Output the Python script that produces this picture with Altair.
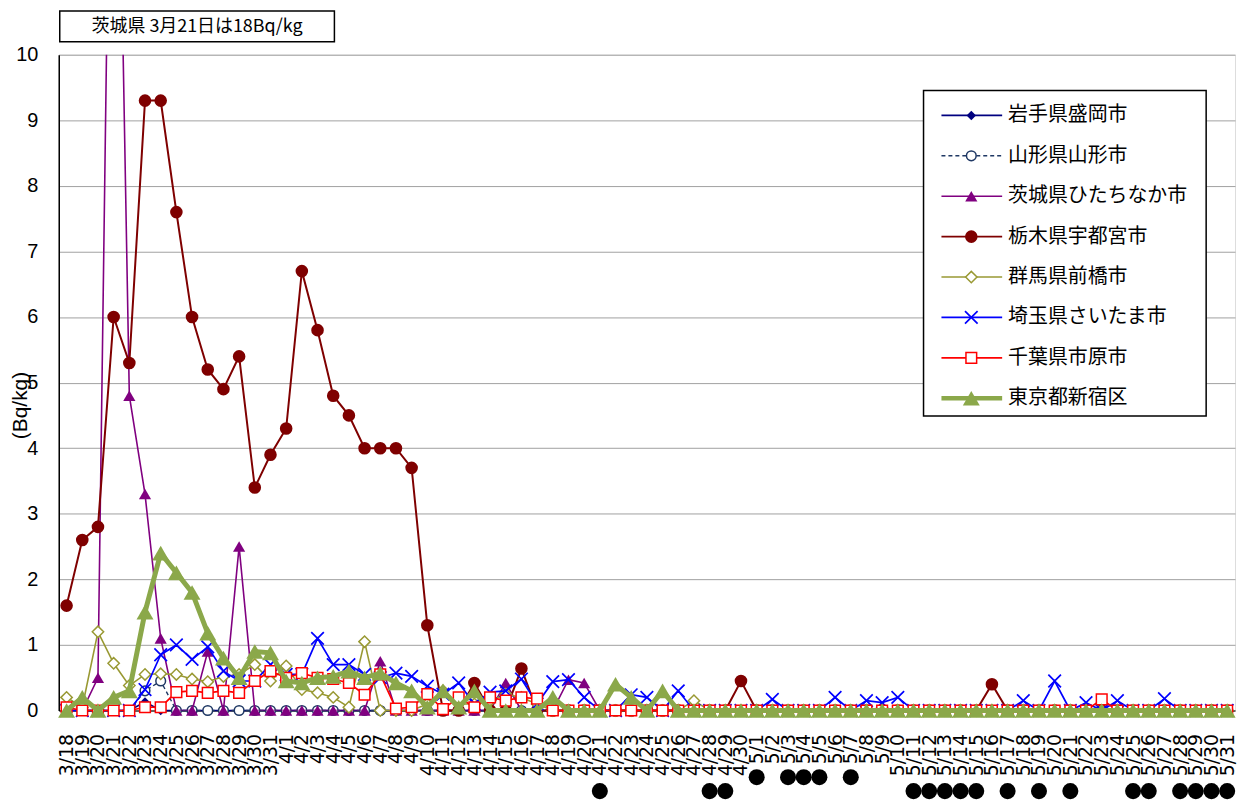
import altair as alt
import pandas as pd

# ---------------- data ----------------
dates = ([f"3/{d}" for d in range(18, 32)] +
         [f"4/{d}" for d in range(1, 31)] +
         [f"5/{d}" for d in range(1, 32)])

names = ["岩手県盛岡市", "山形県山形市", "茨城県ひたちなか市", "栃木県宇都宮市",
         "群馬県前橋市", "埼玉県さいたま市", "千葉県市原市", "東京都新宿区"]

iwate = [0, 0, 0, 0, 0, 0.13, 0, 0, 0, 0, 0, 0, 0, 0,
         0, 0, 0, 0, 0, 0, 0, 0, 0, 0, 0, 0, 0, 0, 0, 0, 0, 0, 0, 0, 0, 0, 0, 0, 0, 0, 0, 0, 0, 0,
         0, 0, 0, 0, 0, 0, 0, 0, 0, 0, 0, 0, 0, 0, 0, 0, 0, 0, 0, 0, 0, 0, 0, 0, 0, 0, 0, 0, 0, 0, 0]
yamagata = [0, 0, 0, 0, 0, 0.3, 0.45, 0, 0, 0, 0, 0, 0, 0,
            0, 0, 0, 0, 0, 0, 0, 0, 0, 0, 0, 0, 0, 0, 0, 0, 0, 0, 0, 0, 0, 0, 0, 0, 0, 0, 0, 0, 0, 0,
            0, 0, 0, 0, 0, 0, 0, 0, 0, 0, 0, 0, 0, 0, 0, 0, 0, 0, 0, 0, 0, 0, 0, 0, 0, 0, 0, 0, 0, 0, 0]
ibaraki = [0, 0, 0.5, 18, 4.8, 3.3, 1.1, 0, 0, 0.9, 0, 2.5, 0, 0,
           0, 0, 0, 0, 0, 0, 0.75, 0, 0, 0, 0, 0, 0, 0, 0.42, 0, 0, 0, 0.47, 0.42, 0, 0, 0, 0, 0, 0, 0, 0, 0, 0,
           0, 0, 0, 0, 0, 0, 0, 0, 0, 0, 0, 0, 0, 0, 0, 0, 0, 0, 0, 0, 0, 0, 0, 0, 0, 0, 0, 0, 0, 0, 0]
tochigi = [1.6, 2.6, 2.8, 6.0, 5.3, 9.3, 9.3, 7.6, 6.0, 5.2, 4.9, 5.4, 3.4, 3.9,
           4.3, 6.7, 5.8, 4.8, 4.5, 4.0, 4.0, 4.0, 3.7, 1.3, 0, 0, 0.42, 0, 0, 0.64, 0, 0, 0, 0, 0, 0, 0, 0, 0, 0, 0, 0, 0, 0.45,
           0, 0, 0, 0, 0, 0, 0, 0, 0, 0, 0, 0, 0, 0, 0, 0.4, 0, 0, 0, 0, 0, 0, 0, 0, 0, 0, 0, 0, 0, 0, 0]
gunma = [0.2, 0.05, 1.2, 0.72, 0.38, 0.55, 0.56, 0.55, 0.48, 0.44, 0.52, 0.55, 0.7, 0.45,
         0.68, 0.32, 0.27, 0.2, 0.05, 1.05, 0, 0, 0, 0.1, 0.3, 0.1, 0.1, 0.15, 0.25, 0.2, 0.1, 0, 0, 0, 0, 0, 0, 0, 0, 0, 0.15, 0, 0, 0,
         0, 0, 0, 0, 0, 0, 0, 0, 0, 0, 0, 0, 0, 0, 0, 0, 0, 0, 0, 0, 0, 0, 0, 0, 0, 0, 0, 0, 0, 0, 0]
saitama = [0, 0, 0, 0, 0, 0.32, 0.85, 1.0, 0.78, 0.97, 0.6, 0.45, 0.45, 0.7,
           0.55, 0.55, 1.1, 0.7, 0.7, 0.55, 0.5, 0.57, 0.52, 0.37, 0.25, 0.42, 0.1, 0.28, 0.3, 0.48, 0.1, 0.44, 0.47, 0.2, 0, 0, 0.24, 0.2, 0, 0.3, 0, 0, 0, 0,
           0, 0.17, 0, 0, 0, 0.2, 0, 0.15, 0.12, 0.2, 0, 0, 0, 0, 0, 0, 0, 0.15, 0, 0.45, 0, 0.12, 0, 0.15, 0, 0, 0.18, 0, 0, 0, 0]
chiba = [0.05, 0, 0, 0, 0, 0.05, 0.05, 0.28, 0.3, 0.27, 0.3, 0.27, 0.45, 0.6,
         0.5, 0.57, 0.5, 0.48, 0.42, 0.24, 0.55, 0.03, 0.05, 0.25, 0.02, 0.2, 0.05, 0.2, 0.15, 0.2, 0.18, 0, 0, 0, 0, 0, 0, 0, 0, 0, 0, 0, 0, 0,
         0, 0, 0, 0, 0, 0, 0, 0, 0, 0, 0, 0, 0, 0, 0, 0, 0, 0, 0, 0, 0, 0, 0.17, 0, 0, 0, 0, 0, 0, 0, 0]
tokyo = [0, 0.2, 0, 0.2, 0.3, 1.5, 2.4, 2.1, 1.8, 1.18, 0.8, 0.5, 0.9, 0.88,
         0.45, 0.42, 0.5, 0.52, 0.6, 0.5, 0.57, 0.42, 0.3, 0.05, 0.3, 0.05, 0.3, 0, 0, 0, 0, 0.2, 0, 0, 0, 0.4, 0.2, 0, 0.3, 0, 0, 0, 0, 0,
         0, 0, 0, 0, 0, 0, 0, 0, 0, 0, 0, 0, 0, 0, 0, 0, 0, 0, 0, 0, 0, 0, 0, 0, 0, 0, 0, 0, 0, 0, 0]

series_values = [iwate, yamagata, ibaraki, tochigi, gunma, saitama, chiba, tokyo]

marked_dates = ["4/21", "4/28", "4/29", "5/1", "5/3", "5/4", "5/5", "5/7",
                "5/11", "5/12", "5/13", "5/14", "5/15", "5/17", "5/19", "5/21",
                "5/25", "5/26", "5/28", "5/29", "5/30", "5/31"]

note_text = "茨城県 3月21日は18Bq/kg"

# ---------------- tables ----------------
rows = []
for name, vals in zip(names, series_values):
    for d, v in zip(dates, vals):
        rows.append({"series": name, "date": d, "value": v})
df = pd.DataFrame(rows)
legend_df = pd.DataFrame({"series": names})
marks_df = pd.DataFrame({"date": marked_dates})
note_df = pd.DataFrame({"note": [note_text]})

# ---------------- styles ----------------
XPATH = "M-1,-1L1,1M-1,1L1,-1"
styles = {
    "岩手県盛岡市": dict(color="#000080", width=1.6, dash=None, shape="diamond", fill="solid", size=90),
    "山形県山形市": dict(color="#1F3864", width=1.4, dash=[4, 3], shape="circle", fill="open", size=95),
    "茨城県ひたちなか市": dict(color="#800080", width=1.6, dash=None, shape="triangle-up", fill="solid", size=150),
    "栃木県宇都宮市": dict(color="#7F0000", width=2, dash=None, shape="circle", fill="solid", size=160),
    "群馬県前橋市": dict(color="#999933", width=1.6, dash=None, shape="diamond", fill="open", size=130),
    "埼玉県さいたま市": dict(color="#0000FF", width=1.7, dash=None, shape=XPATH, fill="none", size=160),
    "千葉県市原市": dict(color="#FF0000", width=1.7, dash=None, shape="square", fill="open", size=115),
    "東京都新宿区": dict(color="#8BA84A", width=5, dash=None, shape="triangle-up", fill="solid", size=290),
}

W, H = 1182, 659
FONT_JP = "Noto Sans CJK JP"

x_enc = alt.X(
    "date:O", sort=dates,
    scale=alt.Scale(type="point", domain=dates, padding=0.5),
    axis=alt.Axis(title=None, labelAngle=270, labelFontSize=19, labelFont="DejaVu Sans",
                  labelColor="black", labelOverlap=False, labelPadding=23, ticks=False,
                  domainColor="black", grid=False),
)
y_enc = alt.Y(
    "value:Q",
    scale=alt.Scale(domain=[0, 10], nice=False),
    axis=alt.Axis(title="(Bq/kg)", values=list(range(11)), labelFontSize=20,
                  labelFont="Liberation Sans", labelColor="black", labelPadding=21,
                  ticks=False, domainColor="black", domainWidth=1.5,
                  gridColor="#A0A0A0", gridWidth=1,
                  titleFont="Liberation Sans", titleFontSize=21, titleFontWeight="normal",
                  titleColor="black", titleAngle=270, titleX=-28, titleY=352,
                  titleBaseline="bottom"),
)


def point_kw(st):
    if st["fill"] == "solid":
        return dict(shape=st["shape"], filled=True, color=st["color"], size=st["size"], opacity=1)
    if st["fill"] == "open":
        return dict(shape=st["shape"], filled=True, fill="white", stroke=st["color"],
                    strokeWidth=1.5, size=st["size"], opacity=1)
    return dict(shape=st["shape"], filled=False, stroke=st["color"], strokeWidth=1.7,
                size=st["size"], opacity=1)


layers = []
for name in names:
    st = styles[name]
    line_kw = dict(color=st["color"], strokeWidth=st["width"])
    if st["dash"]:
        line_kw["strokeDash"] = st["dash"]
    sub = alt.Chart(df).transform_filter(alt.datum.series == name)
    # the line is clipped only where it leaves the top of the plot (values above 10)
    if max(series_values[names.index(name)]) > 10:
        line_kw["clip"] = True
    layers.append(sub.mark_line(**line_kw).encode(x=x_enc, y=y_enc))
    layers.append(alt.Chart(df)
                  .transform_filter(alt.datum.series == name)
                  .transform_filter(alt.datum.value <= 10)
                  .mark_point(**point_kw(st))
                  .encode(x=x_enc, y=y_enc))

# marked dates (black dots below the labels)
layers.append(alt.Chart(marks_df).transform_filter("length(datum.date) == 4")
              .mark_circle(size=260, color="black", opacity=1)
              .encode(x=x_enc, y=alt.value(H + 81)))
layers.append(alt.Chart(marks_df).transform_filter("length(datum.date) == 3")
              .mark_circle(size=260, color="black", opacity=1)
              .encode(x=x_enc, y=alt.value(H + 67)))

# legend box
layers.append(alt.Chart(note_df).mark_rect(fill="white", stroke="black", strokeWidth=1.5)
              .encode(x=alt.value(869), x2=alt.value(1153), y=alt.value(36), y2=alt.value(363)))
for i, name in enumerate(names):
    st = styles[name]
    ry = 61 + 40.6 * i
    rule_kw = dict(color=st["color"], strokeWidth=min(st["width"], 4.5))
    if st["dash"]:
        rule_kw["strokeDash"] = st["dash"]
    layers.append(alt.Chart(legend_df).transform_filter(alt.datum.series == name)
                  .mark_rule(**rule_kw)
                  .encode(x=alt.value(887), x2=alt.value(948), y=alt.value(ry)))
    layers.append(alt.Chart(legend_df).transform_filter(alt.datum.series == name)
                  .mark_point(**point_kw(st))
                  .encode(x=alt.value(917), y=alt.value(ry)))
    layers.append(alt.Chart(legend_df).transform_filter(alt.datum.series == name)
                  .mark_text(align="left", baseline="middle", font=FONT_JP, fontSize=20, color="black")
                  .encode(x=alt.value(954), y=alt.value(ry), text="series:N"))

# note box at top
layers.append(alt.Chart(note_df).mark_rect(fill="white", stroke="black", strokeWidth=1.5)
              .encode(x=alt.value(1), x2=alt.value(277), y=alt.value(-44), y2=alt.value(-13)))
layers.append(alt.Chart(note_df).mark_text(align="center", baseline="middle", font=FONT_JP,
                                           fontSize=18, color="black")
              .encode(x=alt.value(139), y=alt.value(-28), text="note:N"))

chart = (alt.layer(*layers)
         .properties(width=W, height=H, padding={"left": 2, "top": 0, "right": 0, "bottom": 0})
         .configure_view(stroke="#A0A0A0", strokeWidth=1)
         .configure(background="white"))

chart.save("out.html", embed_options={"renderer": "svg", "actions": False})
